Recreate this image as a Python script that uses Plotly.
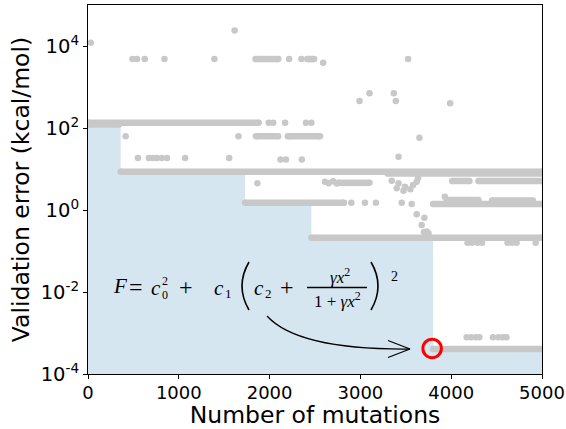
import plotly.graph_objects as go

# ---------------- data ----------------
# best-so-far (light blue step region)
best_x = [0, 360, 1730, 2460, 3800, 5000]
best_y = [122, 8.6, 1.5, 0.21, 4.1e-4, 4.1e-4]

# dense horizontal runs of points (start, end, level)
band_x0 = [0, 0, 360, 3300, 2760, 4010, 4300, 1730, 3800, 3950, 4450, 2460, 3800, 1850, 2200, 1845, 2415]
band_x1 = [1880, 340, 5000, 5000, 3100, 4200, 5000, 2820, 5000, 4300, 4900, 5000, 5000, 2095, 2555, 2095, 2490]
band_y = [135, 122, 8.6, 7.8, 4.6, 5.1, 5.1, 1.5, 1.4, 1.75, 1.7, 0.21, 4.1e-4, 63, 63, 4800, 4800]

# individual points, high region
high_x = [30, 1615, 490, 540, 625, 842, 1392, 2215, 2350, 2445, 3525, 2590,
          2990, 3100, 3368, 3390, 3988, 1990, 2040, 2170, 2400, 2460]
high_y = [1.2e4, 2.4e4, 4800, 4800, 4800, 4800, 4800, 4800, 4800, 4800, 4800, 3900,
          457, 705, 705, 457, 400, 135, 135, 135, 135, 135]

# individual points, middle region
mid_x = [415, 1657, 3650, 550, 670, 715, 755, 810, 870, 1070, 1555, 2120, 2180, 2355, 3420,
         1865, 3345, 3420, 3490, 3400, 3475, 3550, 3620, 3635, 3580,
         2610, 2650, 2700, 2740, 2900, 3050, 3170, 3455, 3565, 3930]
mid_y = [63, 63, 58, 18.5, 18.5, 18.5, 18.5, 18.5, 18.5, 18.5, 18.5, 17, 17, 17, 20,
         4.5, 5.2, 4.5, 3.7, 3.4, 2.95, 3.2, 4.9, 6.0, 4.1,
         4.9, 4.5, 5.0, 4.4, 1.5, 1.5, 1.5, 1.5, 1.4, 2.1]

# individual points, low region
low_x = [3620, 3705, 3675, 3730, 3750, 3700,
         4180, 4230, 4290, 4340, 4620, 4670, 4720, 4930,
         4170, 4220, 4270, 4310, 4460, 4520, 4570, 4610]
low_y = [0.79, 0.65, 0.43, 0.30, 0.27, 0.29,
         0.16, 0.16, 0.16, 0.16, 0.16, 0.16, 0.16, 0.16,
         7.9e-4, 7.9e-4, 7.9e-4, 7.9e-4, 7.9e-4, 7.9e-4, 7.9e-4, 7.9e-4]

highlight_x = [3790]
highlight_y = [4.2e-4]

x_ticks = [0, 1000, 2000, 3000, 4000, 5000]
y_ticks = [1e-4, 1e-2, 1, 1e2, 1e4]
y_ticktext = ["10<sup>-4</sup>", "10<sup>-2</sup>", "10<sup>0</sup>", "10<sup>2</sup>", "10<sup>4</sup>"]

GRAY = "#c8c8c8"
BLUE = "#d6e6f1"

fig = go.Figure()

# baseline for fill
fig.add_trace(go.Scatter(x=[best_x[0], best_x[-1]], y=[1e-5, 1e-5], mode="lines",
                         line=dict(width=0), showlegend=False, hoverinfo="skip"))
fig.add_trace(go.Scatter(x=best_x, y=best_y, mode="lines",
                         line=dict(width=0, shape="hv"), fill="tonexty",
                         fillcolor=BLUE, showlegend=False, hoverinfo="skip"))

bx, by = [], []
for a, b, v in zip(band_x0, band_x1, band_y):
    bx += [a, b, None]
    by += [v, v, None]
fig.add_trace(go.Scatter(x=bx, y=by, mode="lines+markers",
                         line=dict(color=GRAY, width=6.5),
                         marker=dict(color=GRAY, size=6.5),
                         showlegend=False))

fig.add_trace(go.Scatter(x=high_x + mid_x + low_x, y=high_y + mid_y + low_y,
                         mode="markers", marker=dict(color=GRAY, size=6.5),
                         showlegend=False))

fig.add_trace(go.Scatter(x=highlight_x, y=highlight_y, mode="markers",
                         marker=dict(symbol="circle-open", size=18.5, color="red",
                                     line=dict(color="red", width=3)),
                         showlegend=False))

# ---------------- formula annotation ----------------
L, T, W, H = 88, 5, 454, 369


def PX(px):
    return (px - L) / W


def PY(py):
    return (T + H - py) / H


SERIF = "Liberation Serif"
pieces = [
    ("<i>F</i>", 119.5, 286, 21),
    ("=", 135.5, 287, 24),
    ("<i>c</i>", 156, 288, 21),
    ("0", 165, 295, 12),
    ("2", 165, 281, 12),
    ("+", 186, 287, 24),
    ("<i>c</i>", 219, 288, 21),
    ("1", 228, 293.5, 13),
    ("<i>c</i>", 259, 288, 21),
    ("2", 268, 293.5, 13),
    ("+", 287, 287, 24),
    ("<i>γx</i><sup>2</sup>", 340, 276, 17),
    ("1 + <i>γx</i><sup>2</sup>", 337, 300, 17),
    ("2", 394, 276, 14),
]
annotations = []
for txt, px, py, sz in pieces:
    annotations.append(dict(text=txt, x=PX(px), y=PY(py), xref="paper", yref="paper",
                            xanchor="center", yanchor="middle", showarrow=False,
                            font=dict(family=SERIF, size=sz, color="black")))


def qpath(p0, p1, p2):
    return "M %f %f Q %f %f %f %f" % (PX(p0[0]), PY(p0[1]), PX(p1[0]), PY(p1[1]),
                                      PX(p2[0]), PY(p2[1]))


shapes = [
    # fraction bar
    dict(type="line", xref="paper", yref="paper", x0=PX(307), x1=PX(367),
         y0=PY(287.5), y1=PY(287.5), line=dict(color="black", width=1.5)),
    # parentheses
    dict(type="path", xref="paper", yref="paper", path=qpath((249, 262), (235, 286), (249, 310)),
         line=dict(color="black", width=1.6)),
    dict(type="path", xref="paper", yref="paper", path=qpath((371, 262), (385, 286), (371, 310)),
         line=dict(color="black", width=1.6)),
    # curved arrow
    dict(type="path", xref="paper", yref="paper", path=qpath((267, 316), (298, 350), (410, 349)),
         line=dict(color="black", width=1.3)),
    dict(type="line", xref="paper", yref="paper", x0=PX(388), y0=PY(340.5), x1=PX(410), y1=PY(349),
         line=dict(color="black", width=1.3)),
    dict(type="line", xref="paper", yref="paper", x0=PX(388), y0=PY(357.5), x1=PX(410), y1=PY(349),
         line=dict(color="black", width=1.3)),
]

fig.update_layout(
    width=566, height=429,
    margin=dict(l=L, r=566 - L - W, t=T, b=429 - T - H, autoexpand=False),
    plot_bgcolor="white", paper_bgcolor="white",
    font=dict(family="DejaVu Sans", color="black"),
    annotations=annotations, shapes=shapes,
    showlegend=False,
)
fig.update_xaxes(range=[0, 5000], tickvals=x_ticks, ticks="outside", ticklen=4, tickwidth=1,
                 tickcolor="black", showline=True, linecolor="black", linewidth=1, mirror=True,
                 showgrid=False, zeroline=False, tickfont=dict(size=18), automargin=False,
                 ticklabelstandoff=-2,
                 title=dict(text="Number of mutations", font=dict(size=23.5), standoff=0))
fig.update_yaxes(type="log", range=[-4, 5], tickvals=y_ticks, ticktext=y_ticktext,
                 ticks="outside", ticklen=4, tickwidth=1, tickcolor="black",
                 showline=True, linecolor="black", linewidth=1, mirror=True,
                 showgrid=False, zeroline=False, tickfont=dict(size=19.5), automargin=False,
                 title=dict(text="Validation error (kcal/mol)", font=dict(size=23.5), standoff=4))

fig.write_html("out.html")
